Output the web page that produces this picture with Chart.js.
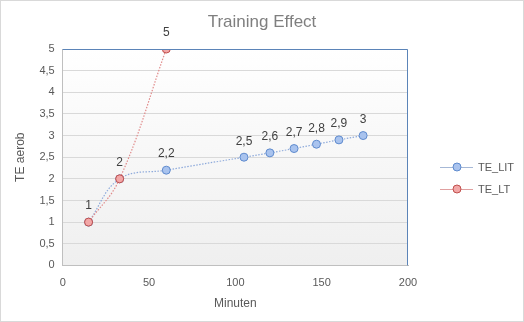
<!DOCTYPE html>
<html>
<head>
<meta charset="utf-8">
<script src="https://cdn.jsdelivr.net/npm/chart.js@4/dist/chart.umd.min.js"></script>
<style>
    body { margin: 0; background: #fff; }
    #wrap { width: 522px; height: 320px; border: 1px solid #d9d9d9; }
</style>
</head>
<body>
<div id="wrap"><canvas id="te-chart" width="522" height="320"></canvas></div>
<script>
// Data
const litMinutes = [15, 33, 60, 105, 120, 134, 147, 160, 174];
const litValues  = [1, 2, 2.2, 2.5, 2.6, 2.7, 2.8, 2.9, 3];
const ltMinutes  = [15, 33, 60];
const ltValues   = [1, 2, 5];

const FONT = "'Liberation Sans', Arial, sans-serif";
const deNum = v => String(v).replace('.', ',');

// plot area gradient + blue top/right border
const plotArea = {
    id: 'plotArea',
    beforeDraw(chart) {
        const { ctx, chartArea: a } = chart;
        const grad = ctx.createLinearGradient(0, a.top, 0, a.bottom);
        grad.addColorStop(0, '#ffffff');
        grad.addColorStop(1, '#efefef');
        ctx.save();
        ctx.fillStyle = grad;
        ctx.fillRect(a.left, a.top, a.right - a.left, a.bottom - a.top);
        ctx.restore();
    },
    afterDatasetsDraw(chart) {
        const { ctx, chartArea: a } = chart;
        ctx.save();
        ctx.strokeStyle = '#5b84b8';
        ctx.lineWidth = 1;
        ctx.beginPath();
        ctx.moveTo(a.left, a.top + 0.5);
        ctx.lineTo(a.right - 0.5, a.top + 0.5);
        ctx.lineTo(a.right - 0.5, a.bottom);
        ctx.stroke();
        ctx.restore();
    }
};

// value labels above points
const pointLabels = {
    id: 'pointLabels',
    afterDatasetsDraw(chart) {
        const { ctx } = chart;
        ctx.save();
        ctx.font = '12px ' + FONT;
        ctx.fillStyle = '#404040';
        ctx.textAlign = 'center';
        ctx.textBaseline = 'bottom';
        chart.data.datasets.forEach((ds, i) => {
            const meta = chart.getDatasetMeta(i);
            meta.data.forEach((pt, j) => {
                if (i === 1 && j < 2) return; // shared with first series
                ctx.fillText(deNum(ds.data[j].y), pt.x, pt.y - 10);
            });
        });
        ctx.restore();
    }
};

// title centred on the whole canvas, legend on the right
const frame = {
    id: 'frame',
    afterDraw(chart) {
        const { ctx } = chart;
        ctx.save();
        ctx.font = '17px ' + FONT;
        ctx.fillStyle = '#7f7f7f';
        ctx.textAlign = 'center';
        ctx.textBaseline = 'middle';
        ctx.fillText('Training Effect', chart.width / 2, 21);

        const x0 = chart.chartArea.right + 32;
        ctx.font = '11px ' + FONT;
        ctx.textAlign = 'left';
        chart.data.datasets.forEach((ds, i) => {
            const y = 166 + i * 22;
            ctx.strokeStyle = ds.legendLine;
            ctx.lineWidth = 1;
            ctx.beginPath();
            ctx.moveTo(x0, y + 0.5);
            ctx.lineTo(x0 + 33, y + 0.5);
            ctx.stroke();
            ctx.fillStyle = ds.pointBackgroundColor;
            ctx.strokeStyle = ds.pointBorderColor;
            ctx.beginPath();
            ctx.arc(x0 + 17, y, 4, 0, Math.PI * 2);
            ctx.fill();
            ctx.stroke();
            ctx.fillStyle = '#595959';
            ctx.fillText(ds.label, x0 + 38, y + 1);
        });
        ctx.restore();
    }
};

new Chart(document.getElementById('te-chart'), {
    type: 'scatter',
    data: {
        datasets: [{
            label: 'TE_LIT',
            data: litMinutes.map((m, i) => ({ x: m, y: litValues[i] })),
            order: 2,
            showLine: true,
            tension: 0.4,
            borderColor: '#8eaadb',
            borderWidth: 1.2,
            borderDash: [1.5, 1.5],
            pointRadius: 4,
            pointBackgroundColor: '#a9c3ee',
            pointBorderColor: '#5f8bce',
            pointBorderWidth: 1,
            legendLine: '#a6b8d6'
        }, {
            label: 'TE_LT',
            data: ltMinutes.map((m, i) => ({ x: m, y: ltValues[i] })),
            order: 1,
            showLine: true,
            tension: 0.4,
            borderColor: '#e08a8a',
            borderWidth: 1.2,
            borderDash: [1.5, 1.5],
            pointRadius: 4,
            pointBackgroundColor: '#f2a7a7',
            pointBorderColor: '#c0504d',
            pointBorderWidth: 1,
            legendLine: '#e0a0a0'
        }]
    },
    options: {
        responsive: false,
        animation: false,
        layout: { padding: { left: 8, right: 115, top: 48, bottom: 6 } },
        plugins: {
            title: { display: false },
            legend: { display: false },
            tooltip: { enabled: false }
        },
        scales: {
            x: {
                min: 0, max: 200,
                ticks: { stepSize: 50, color: '#595959', font: { family: FONT, size: 11 } },
                grid: { display: false },
                border: { color: '#bfbfbf' },
                title: { display: true, text: 'Minuten', color: '#595959', font: { family: FONT, size: 12 } }
            },
            y: {
                min: 0, max: 5,
                ticks: { stepSize: 0.5, padding: 8, color: '#595959', font: { family: FONT, size: 11 }, callback: v => deNum(v) },
                grid: { color: '#d9d9d9', drawTicks: false },
                border: { color: '#bfbfbf' },
                title: { display: true, text: 'TE aerob', color: '#595959', font: { family: FONT, size: 12 }, padding: { top: 4, bottom: 4 } }
            }
        }
    },
    plugins: [plotArea, pointLabels, frame]
});
</script>
</body>
</html>
